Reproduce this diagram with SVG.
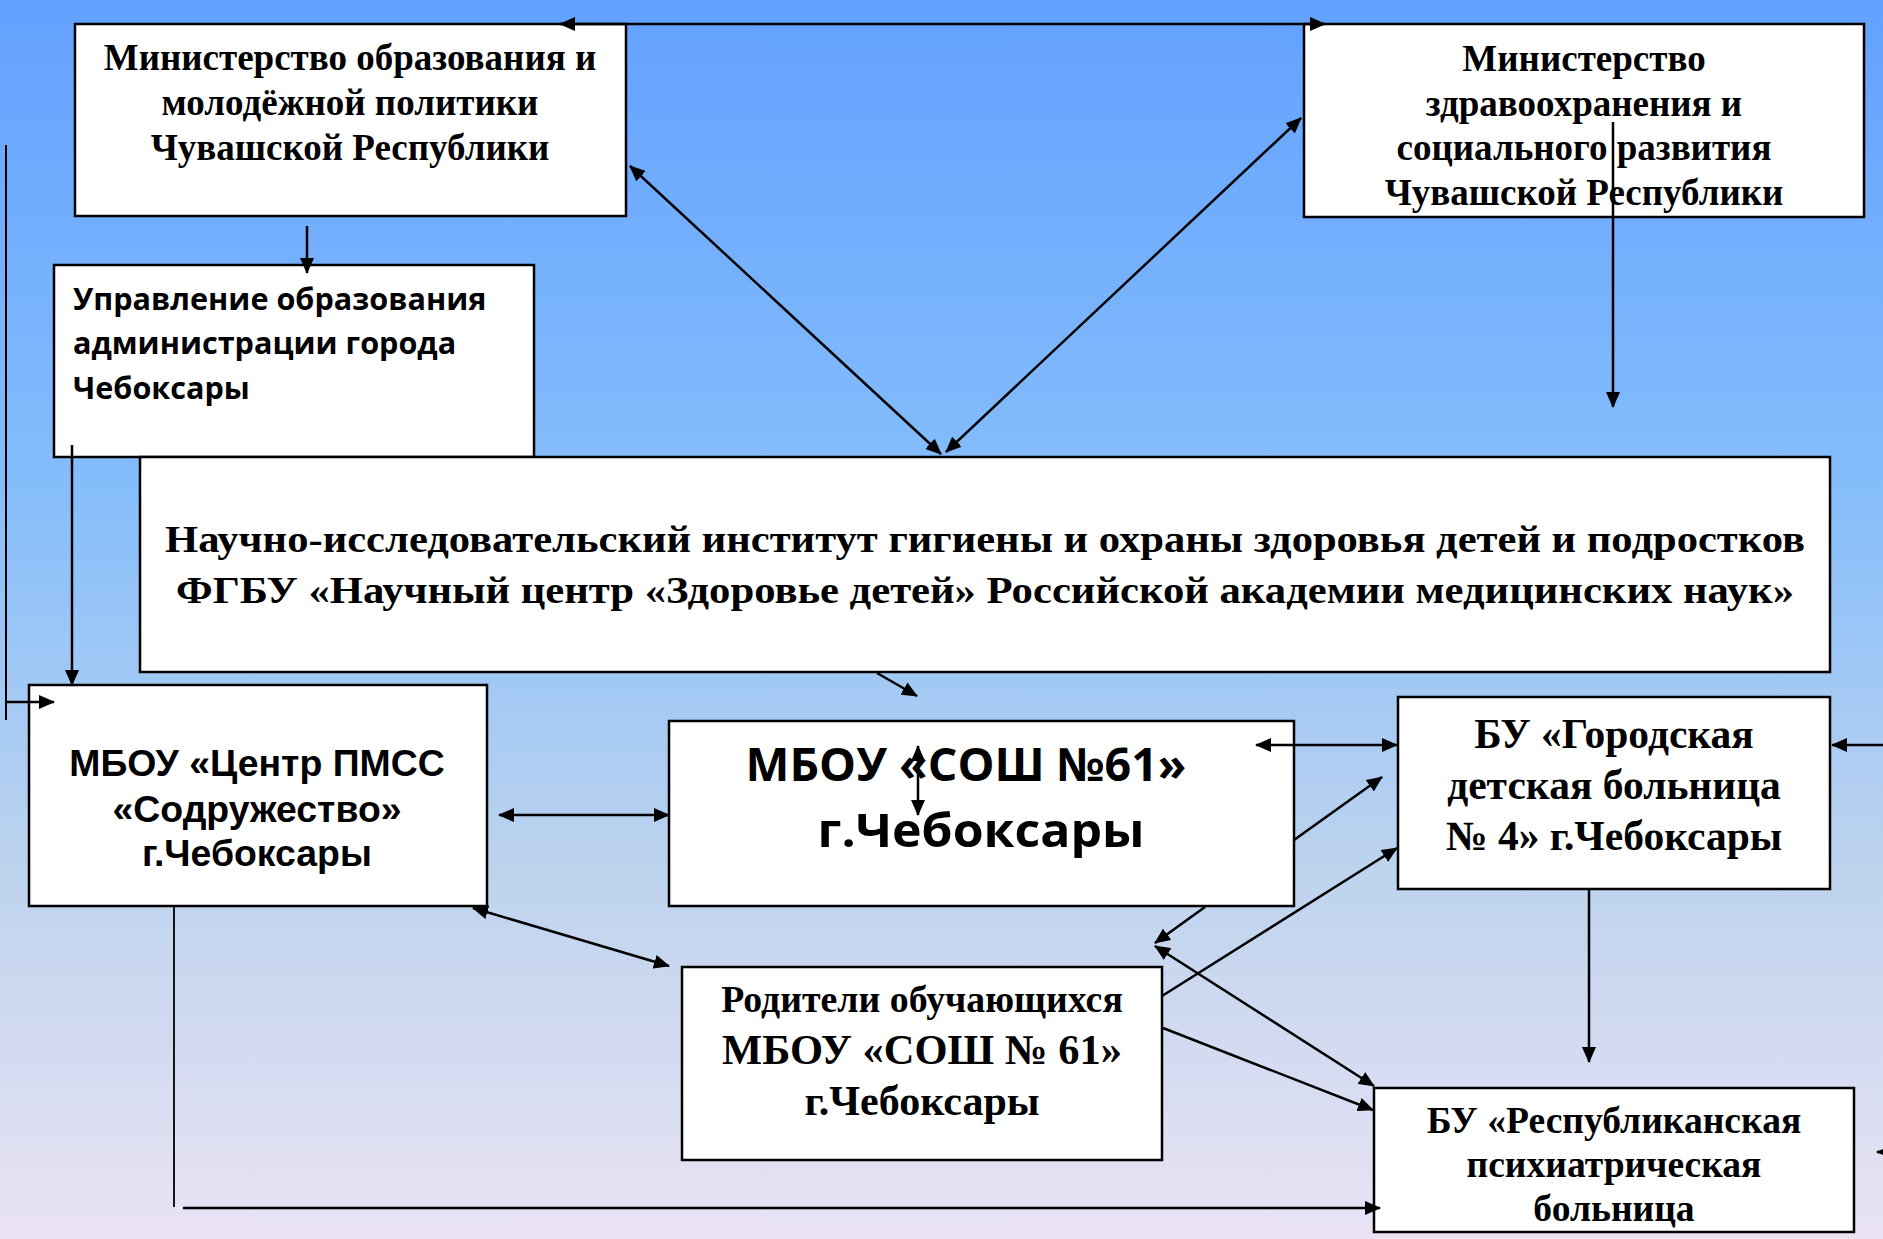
<svg xmlns="http://www.w3.org/2000/svg" width="1883" height="1239" viewBox="0 0 1883 1239">
<defs>
<linearGradient id="bg" x1="0" y1="0" x2="0" y2="1">
<stop offset="0" stop-color="#62A1FF"/>
<stop offset="0.4" stop-color="#86BEFB"/>
<stop offset="0.7" stop-color="#BDD3EE"/>
<stop offset="1" stop-color="#EAE3F4"/>
</linearGradient>
<marker id="ah" viewBox="0 0 16 14" markerWidth="16" markerHeight="14" refX="15" refY="7" orient="auto-start-reverse" markerUnits="userSpaceOnUse">
<path d="M0,0 L16,7 L0,14 z" fill="#000"/>
</marker>
<style>
.box{fill:#fff;stroke:#000;stroke-width:2.5}
.tr{font-family:"Liberation Serif","Times New Roman",serif;font-weight:bold;fill:#000;text-anchor:middle}
.ar{font-family:"Liberation Sans",Arial,sans-serif;font-weight:bold;fill:#000;text-anchor:middle}
.os{font-family:"Open Sans","Noto Sans",sans-serif;font-weight:bold;fill:#000}
.c{fill:none;stroke:#000;stroke-width:2.5}
.one{marker-end:url(#ah)}
.two{marker-start:url(#ah);marker-end:url(#ah)}
</style>
</defs>
<rect x="0" y="0" width="1883" height="1239" fill="url(#bg)"/>

<g id="minedu">
<rect class="box" x="75" y="24" width="551" height="192"/>
<text class="tr" font-size="37" x="350" y="70">Министерство образования и</text>
<text class="tr" font-size="37" x="350" y="115">молодёжной политики</text>
<text class="tr" font-size="37" x="350" y="160">Чувашской Республики</text>
</g>

<g id="minhealth">
<rect class="box" x="1304" y="24" width="560" height="193"/>
<text class="tr" font-size="37" x="1584" y="71">Министерство</text>
<text class="tr" font-size="37" x="1584" y="116">здравоохранения и</text>
<text class="tr" font-size="37" x="1584" y="160">социального развития</text>
<text class="tr" font-size="37" x="1584" y="205">Чувашской Республики</text>
</g>

<g id="upr">
<rect class="box" x="54" y="265" width="480" height="192"/>
<text class="os" font-size="30.6" x="73" y="310">Управление образования</text>
<text class="os" font-size="30.6" x="73" y="354">администрации города</text>
<text class="os" font-size="30.6" x="73" y="399">Чебоксары</text>
</g>

<g id="nii">
<rect class="box" x="140" y="457" width="1690" height="215"/>
<text class="tr" font-size="38" x="985" y="552" textLength="1640" lengthAdjust="spacingAndGlyphs">Научно-исследовательский институт гигиены и охраны здоровья детей и подростков</text>
<text class="tr" font-size="38" x="985" y="603" textLength="1618" lengthAdjust="spacingAndGlyphs">ФГБУ «Научный центр «Здоровье детей» Российской академии медицинских наук»</text>
</g>

<g id="centr">
<rect class="box" x="29" y="685" width="458" height="221"/>
<text class="ar" font-size="37.4" x="257" y="776">МБОУ «Центр ПМСС</text>
<text class="ar" font-size="37.4" x="257" y="822">«Содружество»</text>
<text class="ar" font-size="37.4" x="257" y="866">г.Чебоксары</text>
</g>

<g id="sosh">
<rect class="box" x="669" y="721" width="625" height="185"/>
<text class="os" font-size="46" x="966" y="781" text-anchor="middle" textLength="441" lengthAdjust="spacingAndGlyphs">МБОУ «СОШ №61»</text>
<text class="os" font-size="47" x="981" y="847" text-anchor="middle" textLength="327" lengthAdjust="spacingAndGlyphs">г.Чебоксары</text>
</g>

<g id="gorod">
<rect class="box" x="1398" y="697" width="432" height="192"/>
<text class="tr" font-size="41.5" x="1614" y="748">БУ «Городская</text>
<text class="tr" font-size="41.5" x="1614" y="799">детская больница</text>
<text class="tr" font-size="41.5" x="1614" y="850">№ 4» г.Чебоксары</text>
</g>

<g id="rodit">
<rect class="box" x="682" y="967" width="480" height="193"/>
<text class="tr" font-size="37.8" x="922" y="1012">Родители обучающихся</text>
<text class="tr" font-size="42.5" x="922" y="1064">МБОУ «СОШ № 61»</text>
<text class="tr" font-size="42" x="922" y="1115">г.Чебоксары</text>
</g>

<g id="psych">
<rect class="box" x="1374" y="1088" width="480" height="144"/>
<text class="tr" font-size="37.6" x="1614" y="1133">БУ «Республиканская</text>
<text class="tr" font-size="37.6" x="1614" y="1177">психиатрическая</text>
<text class="tr" font-size="37.6" x="1614" y="1221">больница</text>
</g>

<g id="connectors">
<line class="c two" x1="560" y1="24" x2="1325" y2="24"/>
<line class="c one" x1="307" y1="226" x2="307" y2="273"/>
<line class="c one" x1="1613" y1="122" x2="1613" y2="407"/>
<line class="c two" x1="630" y1="166" x2="941" y2="454"/>
<line class="c two" x1="1301" y1="118" x2="946" y2="452"/>
<line class="c one" x1="72" y1="445" x2="72" y2="685"/>
<line class="c" x1="6" y1="145" x2="6" y2="720" style="stroke-width:2"/>
<line class="c one" x1="6" y1="702" x2="54" y2="702"/>
<line class="c two" x1="499" y1="815" x2="669" y2="815"/>
<line class="c one" x1="877" y1="673" x2="917" y2="696"/>
<line class="c two" x1="918" y1="746" x2="918" y2="815"/>
<line class="c two" x1="1256" y1="745" x2="1397" y2="745"/>
<line class="c one" x1="1294" y1="840" x2="1382" y2="777"/>
<line class="c one" x1="1162" y1="996" x2="1397" y2="848"/>
<line class="c one" x1="1205" y1="907" x2="1155" y2="943"/>
<line class="c two" x1="1155" y1="946" x2="1374" y2="1086"/>
<line class="c one" x1="1163" y1="1028" x2="1373" y2="1110"/>
<line class="c one" x1="1589" y1="890" x2="1589" y2="1062"/>
<line class="c one" x1="1883" y1="745" x2="1832" y2="745"/>
<line class="c one" x1="1895" y1="1152" x2="1877" y2="1152"/>
<line class="c two" x1="473" y1="908" x2="669" y2="966"/>
<line class="c" x1="174" y1="906" x2="174" y2="1207" style="stroke-width:1.8"/>
<line class="c one" x1="183" y1="1208" x2="1380" y2="1208"/>
</g>
</svg>
